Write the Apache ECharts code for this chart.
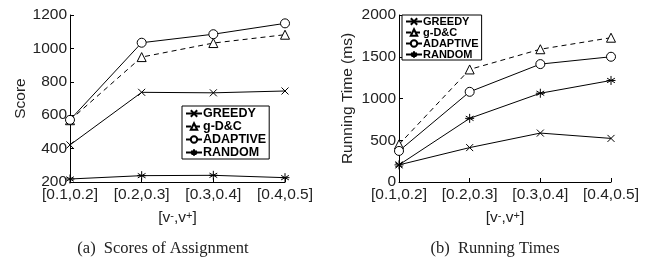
<!DOCTYPE html>
<html lang="en">
<head>
    <meta charset="UTF-8">
    <title>Scores and Running Times</title>
    <script type="text/javascript" src="https://cdn.jsdelivr.net/npm/echarts@6/dist/echarts.min.js"></script>
    <style>
        body { margin: 0; background: #fff; }
    </style>
</head>
<body>
<div id="main" style="width: 662px;height:261px;"></div>

<script>
    // x 轴类别
    var categories = ['[0.1,0.2]', '[0.2,0.3]', '[0.3,0.4]', '[0.4,0.5]'];

    /** (a) 得分 */
    var scoreGreedy = [422, 737, 734, 745];
    var scoreGdc = [570, 948, 1032, 1082];
    var scoreAdaptive = [572, 1034, 1085, 1150];
    var scoreRandom = [218, 238, 240, 226];

    /** (b) 运行时间 (ms) */
    var timeGreedy = [205, 412, 586, 522];
    var timeGdc = [450, 1348, 1590, 1728];
    var timeAdaptive = [372, 1080, 1412, 1500];
    var timeRandom = [205, 762, 1063, 1216];

    var names = ['GREEDY', 'g-D&C', 'ADAPTIVE', 'RANDOM'];

    var crossPath = 'path://M0,0L10,10M10,0L0,10';
    var starPath = 'path://M5,0L5,10M0.7,2.5L9.3,7.5M0.7,7.5L9.3,2.5M0,5L10,5';

    function makeSeries(data, idx, axisIdx) {
        var symbols = [crossPath, 'triangle', 'circle', starPath];
        var sizes = [7, 9, 9, 9];
        return {
            name: names[idx],
            type: 'line',
            xAxisIndex: axisIdx,
            yAxisIndex: axisIdx,
            data: data,
            symbol: symbols[idx],
            symbolSize: sizes[idx],
            showAllSymbol: true,
            lineStyle: {color: '#000', width: 1, type: idx === 1 ? [5, 4] : 'solid'},
            itemStyle: {color: '#fff', borderColor: '#000', borderWidth: 1},
            emphasis: {disabled: true},
            animation: false
        };
    }

    var axisText = {color: '#222', fontSize: 15.5, fontFamily: 'Liberation Sans'};

    function xAxisFor(gridIdx) {
        return {
            gridIndex: gridIdx,
            type: 'category',
            data: categories,
            boundaryGap: false,
            axisLine: {lineStyle: {color: '#000'}},
            axisTick: {inside: true, length: 4, lineStyle: {color: '#000'}},
            axisLabel: Object.assign({margin: 5, interval: 0, hideOverlap: false}, axisText),
            name: '[v{sup|-},v{sup|+}]',
            nameLocation: 'middle',
            nameGap: 28,
            nameTextStyle: {
                color: '#222', fontSize: 15.5, fontFamily: 'Liberation Sans', verticalAlign: 'top',
                rich: {sup: {fontSize: 11, fontFamily: 'Liberation Sans', verticalAlign: 'top', color: '#222'}}
            }
        };
    }

    function yAxisFor(gridIdx, min, max, interval, name) {
        return {
            gridIndex: gridIdx,
            type: 'value',
            min: min,
            max: max,
            interval: interval,
            splitLine: {show: false},
            axisLine: {show: true, lineStyle: {color: '#000'}},
            axisTick: {show: true, inside: true, length: 4, lineStyle: {color: '#000'}},
            axisLabel: Object.assign({margin: 3, formatter: function (v) { return String(v); }}, axisText),
            name: name,
            nameLocation: 'middle',
            nameGap: name === 'Score' ? 40 : 43,
            nameTextStyle: {color: '#222', fontSize: 15.5, fontFamily: 'Liberation Sans'}
        };
    }

    var chart = echarts.init(document.getElementById('main'));
    var option = {
        animation: false,
        grid: [
            {left: 70, top: 15, width: 215, height: 167},
            {left: 399, top: 15, width: 212, height: 167}
        ],
        xAxis: [xAxisFor(0), xAxisFor(1)],
        yAxis: [
            yAxisFor(0, 200, 1200, 200, 'Score'),
            yAxisFor(1, 0, 2000, 500, 'Running Time (ms)')
        ],
        legend: [
            {
                data: names,
                orient: 'vertical',
                left: 182,
                top: 106,
                itemGap: 0,
                itemWidth: 16,
                itemHeight: 8,
                padding: [1, 3, 0, 3],
                borderColor: '#000',
                borderWidth: 1,
                backgroundColor: '#fff',
                textStyle: {color: '#000', fontSize: 12.5, fontWeight: 'bold', fontFamily: 'Liberation Sans', padding: [0, 0, 0, -4], lineHeight: 13},
                selectedMode: false
            },
            {
                data: names,
                orient: 'vertical',
                left: 402,
                top: 15,
                itemGap: 0,
                itemWidth: 16,
                itemHeight: 8,
                padding: [1, 3, 0, 3],
                borderColor: '#000',
                borderWidth: 1,
                backgroundColor: '#fff',
                textStyle: {color: '#000', fontSize: 11, fontWeight: 'bold', fontFamily: 'Liberation Sans', padding: [0, 0, 0, -4], lineHeight: 11},
                selectedMode: false
            }
        ],
        series: [
            makeSeries(scoreGreedy, 0, 0),
            makeSeries(scoreGdc, 1, 0),
            makeSeries(scoreAdaptive, 2, 0),
            makeSeries(scoreRandom, 3, 0),
            makeSeries(timeGreedy, 0, 1),
            makeSeries(timeGdc, 1, 1),
            makeSeries(timeAdaptive, 2, 1),
            makeSeries(timeRandom, 3, 1)
        ],
        graphic: [
            {
                type: 'text', x: 163, y: 249,
                style: {text: '(a)  Scores of Assignment', fill: '#222', font: '16.5px "Liberation Serif"', textAlign: 'center', textVerticalAlign: 'middle'}
            },
            {
                type: 'text', x: 495, y: 249,
                style: {text: '(b)  Running Times', fill: '#222', font: '16.5px "Liberation Serif"', textAlign: 'center', textVerticalAlign: 'middle'}
            }
        ]
    };
    chart.setOption(option);
</script>
</body>
</html>
